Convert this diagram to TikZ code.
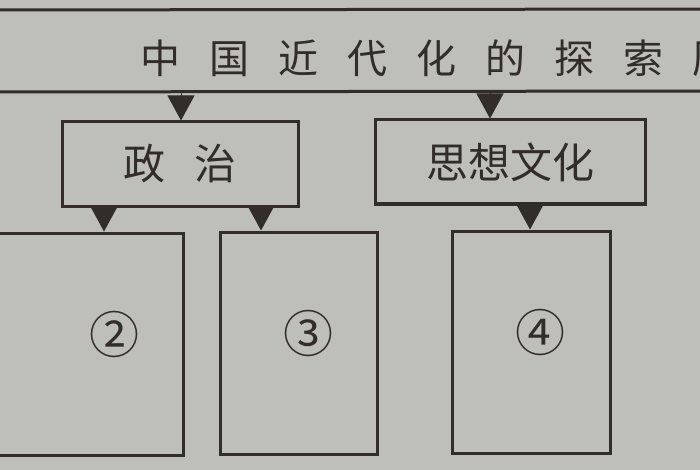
\documentclass[tikz,border=0pt]{standalone}
\usepackage{fontspec}
\newfontfamily\cjk{Noto Sans CJK SC}
\usetikzlibrary{arrows.meta}
\definecolor{paper}{RGB}{190,190,186}
\definecolor{ink}{RGB}{50,45,43}
\newcommand\tgap{\hspace{29pt}}
\tikzset{
  box/.style={draw=ink, line width=3pt, rectangle, inner sep=0pt, text=ink},
  tri/.style={draw=ink, fill=ink, line width=1pt, -{Triangle[length=25pt,width=27pt]}},
  rule/.style={draw=ink, line width=3pt},
  title/.style={text=ink, inner sep=0pt, font=\cjk\fontsize{40pt}{48pt}\selectfont},
  lbl/.style={text=ink, inner sep=0pt, font=\cjk\fontsize{42pt}{50pt}\selectfont},
  num/.style={text=ink, inner sep=0pt, font=\cjk\fontsize{50pt}{60pt}\selectfont},
}
\begin{document}
\begin{tikzpicture}[x=1pt,y=-1pt]
  \useasboundingbox (0,0) rectangle (700,470);
  \fill[paper] (0,0) rectangle (700,470);
  \clip (0,0) rectangle (700,470);
  % title band
  \draw[rule] (-5,10) -- (705,9);
  \draw[rule] (-5,92) -- (705,91);
  \node[title, anchor=west] (ttl) at (140,58) {中\tgap 国\tgap 近\tgap 代\tgap 化\tgap 的\tgap 探\tgap 索\tgap 历};
  \coordinate (t1) at (181,92);
  \coordinate (t2) at (490,91.5);
  % second level
  \node[box, minimum width=236pt, minimum height=84pt, lbl] (zz) at (180,164) {政\hspace{30pt}治};
  \node[box, minimum width=270pt, minimum height=84pt, lbl] (sx) at (510,162) {思想文化};
  % third level
  \node[box, minimum width=205pt, minimum height=222pt] (b2) at (80.5,344) {};
  \node[box, minimum width=157pt, minimum height=222pt] (b3) at (298.5,343) {};
  \node[box, minimum width=158pt, minimum height=222pt] (b4) at (531,342) {};
  \node[num] (n2) at (114,334) {②};
  \node[num] (n3) at (308,333) {③};
  \node[num] (n4) at (540,332) {④};
  % connectors
  \coordinate (c1) at (104,0);
  \coordinate (c2) at (261,0);
  \coordinate (c3) at (530,0);
  \draw[tri] (t1) -- (t1 |- zz.north);
  \draw[tri] (t2) -- (t2 |- sx.north);
  \draw[tri] (zz.south -| c1) -- (b2.north -| c1);
  \draw[tri] (zz.south -| c2) -- (b3.north -| c2);
  \draw[tri] (sx.south -| c3) -- (b4.north -| c3);
\end{tikzpicture}
\end{document}
